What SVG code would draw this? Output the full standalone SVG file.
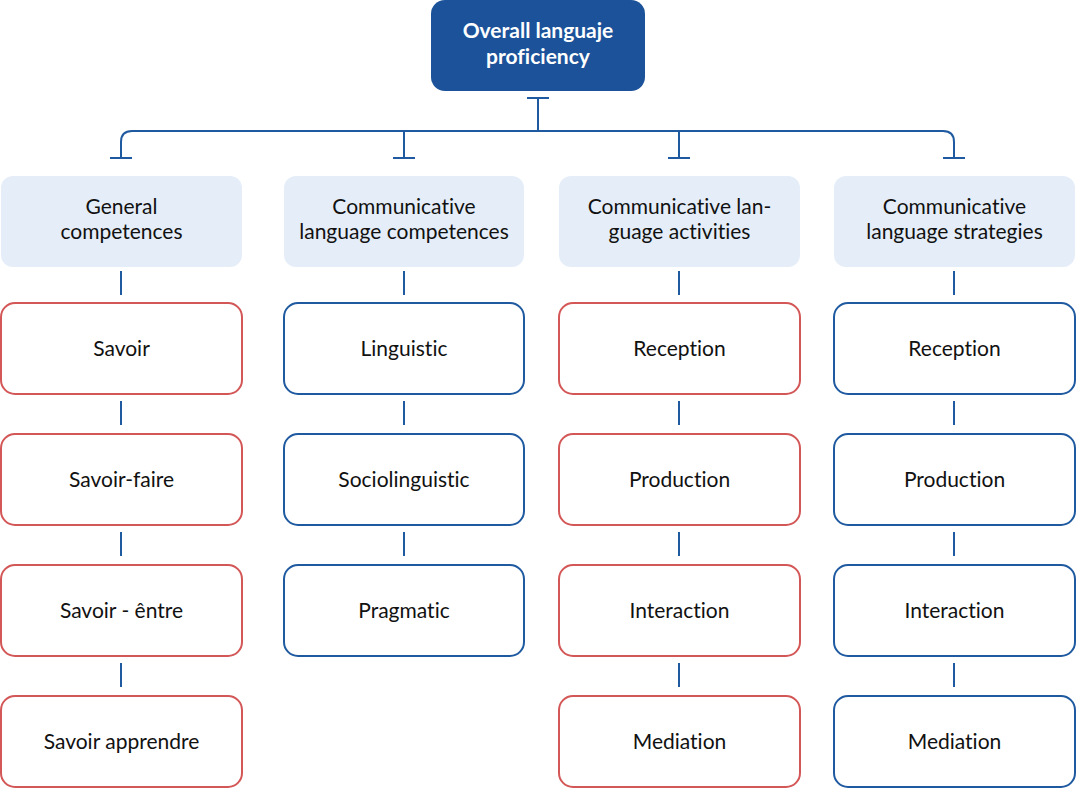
<svg xmlns="http://www.w3.org/2000/svg" width="1076" height="788" viewBox="0 0 1076 788">
<style>
text{font-family:Lato,"Open Sans","Liberation Sans",sans-serif;font-size:21px;fill:#111;text-anchor:middle;dominant-baseline:central;font-variant-ligatures:none;font-feature-settings:"liga" 0}
.top{fill:#1b5299}
.top text{fill:#fff;font-weight:bold;font-size:21px}
.l1{fill:#e5eef8}
.r{fill:#fff;stroke:#d45757;stroke-width:2}
.b{fill:#fff;stroke:#1f5aa0;stroke-width:2}
.c{fill:none;stroke:#1f5aa0;stroke-width:2}
</style>
<rect width="1076" height="788" fill="#fff"/>
<g id="connectors" class="c">
<path d="M527 98H549M538 98V131M132 131H943M121 158V142Q121 131 132 131M943 131Q954 131 954 142V158"/>
<path d="M110 158H132M393 158H415M404 131V158M668 158H690M679 131V158M943 158H965"/>
<path d="M121 271V295M121 401V425M121 532V556M121 663V687"/>
<path d="M404 271V295M404 401V425M404 532V556"/>
<path d="M679 271V295M679 401V425M679 532V556M679 663V687"/>
<path d="M954 271V295M954 401V425M954 532V556M954 663V687"/>
</g>
<g id="n-top" class="top"><rect x="431" y="0" width="214" height="91" rx="14"/><text x="538" y="29.5">Overall languaje</text><text x="538" y="55.5">proficiency</text></g>
<g id="n-general"><rect class="l1" x="1" y="176" width="241" height="91" rx="12"/><text x="121.5" y="205.5">General</text><text x="121.5" y="230.5">competences</text></g>
<g id="n-clc"><rect class="l1" x="284" y="176" width="240" height="91" rx="12"/><text x="404" y="205.5">Communicative</text><text x="404" y="230.5">language competences</text></g>
<g id="n-cla"><rect class="l1" x="559" y="176" width="241" height="91" rx="12"/><text x="679.5" y="205.5">Communicative lan-</text><text x="679.5" y="230.5">guage activities</text></g>
<g id="n-cls"><rect class="l1" x="834" y="176" width="241" height="91" rx="12"/><text x="954.5" y="205.5">Communicative</text><text x="954.5" y="230.5">language strategies</text></g>
<g id="n-savoir"><rect class="r" x="1" y="303" width="241" height="91" rx="14"/><text x="121.5" y="347.5">Savoir</text></g>
<g id="n-savoirfaire"><rect class="r" x="1" y="434" width="241" height="91" rx="14"/><text x="121.5" y="478.5">Savoir-faire</text></g>
<g id="n-savoirentre"><rect class="r" x="1" y="565" width="241" height="91" rx="14"/><text x="121.5" y="609.5">Savoir - êntre</text></g>
<g id="n-savoirapp"><rect class="r" x="1" y="696" width="241" height="91" rx="14"/><text x="121.5" y="740.5">Savoir apprendre</text></g>
<g id="n-ling"><rect class="b" x="284" y="303" width="240" height="91" rx="14"/><text x="404" y="347.5">Linguistic</text></g>
<g id="n-socio"><rect class="b" x="284" y="434" width="240" height="91" rx="14"/><text x="404" y="478.5">Sociolinguistic</text></g>
<g id="n-prag"><rect class="b" x="284" y="565" width="240" height="91" rx="14"/><text x="404" y="609.5">Pragmatic</text></g>
<g id="n-a-rec"><rect class="r" x="559" y="303" width="241" height="91" rx="14"/><text x="679.5" y="347.5">Reception</text></g>
<g id="n-a-prod"><rect class="r" x="559" y="434" width="241" height="91" rx="14"/><text x="679.5" y="478.5">Production</text></g>
<g id="n-a-int"><rect class="r" x="559" y="565" width="241" height="91" rx="14"/><text x="679.5" y="609.5">Interaction</text></g>
<g id="n-a-med"><rect class="r" x="559" y="696" width="241" height="91" rx="14"/><text x="679.5" y="740.5">Mediation</text></g>
<g id="n-s-rec"><rect class="b" x="834" y="303" width="241" height="91" rx="14"/><text x="954.5" y="347.5">Reception</text></g>
<g id="n-s-prod"><rect class="b" x="834" y="434" width="241" height="91" rx="14"/><text x="954.5" y="478.5">Production</text></g>
<g id="n-s-int"><rect class="b" x="834" y="565" width="241" height="91" rx="14"/><text x="954.5" y="609.5">Interaction</text></g>
<g id="n-s-med"><rect class="b" x="834" y="696" width="241" height="91" rx="14"/><text x="954.5" y="740.5">Mediation</text></g>
</svg>
